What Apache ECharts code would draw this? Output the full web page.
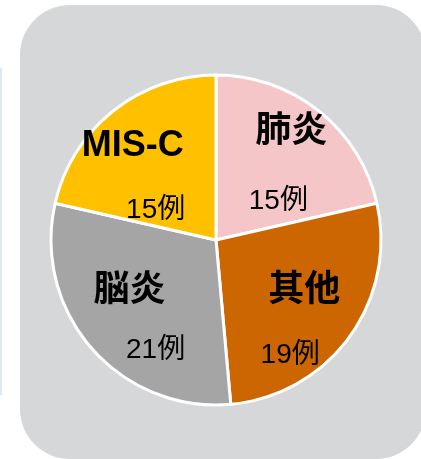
<!DOCTYPE html>
<html>
<head>
<meta charset="utf-8">
<script src="https://cdn.jsdelivr.net/npm/echarts@6/dist/echarts.min.js"></script>
<style>
  html, body { margin: 0; padding: 0; background: #fff; }
  #chart { width: 421px; height: 459px; }
</style>
</head>
<body>
<div id="chart"></div>
<script>
// 疾患別の内訳（例数）
const categories = ['肺炎', '其他', '脳炎', 'MIS-C'];
const counts = [15, 19, 21, 15];
const unit = '例';

// styles
const sliceColors = ['#F4C6C8', '#CC6600', '#A5A5A5', '#FFC000'];
const nameOffsets = [[22, -41], [19, 1], [-22, -5], [-30, -27]];
const valueOffsets = [[9, 28], [5, 65], [4, 54], [-7, 37]];

const FONT = '"Liberation Sans", "Noto Sans CJK JP", sans-serif';
const CENTER = [216, 240];
const RADIUS = 165;

const chart = echarts.init(document.getElementById('chart'));

chart.setOption({
  backgroundColor: '#fff',
  animation: false,
  graphic: [
    {
      type: 'rect', z: -10,
      shape: { x: 0, y: 68, width: 2, height: 327 },
      style: { fill: '#DCE8F4' }
    },
    {
      type: 'rect', z: -10,
      shape: { x: 20, y: 5, width: 406, height: 454, r: 50 },
      style: { fill: '#D6D7D9' }
    }
  ],
  series: [
    {
      type: 'pie',
      center: CENTER,
      radius: RADIUS,
      startAngle: 90,
      clockwise: true,
      silent: true,
      data: categories.map((name, i) => ({
        name,
        value: counts[i],
        itemStyle: { color: sliceColors[i] },
        label: { offset: nameOffsets[i] }
      })),
      itemStyle: { borderColor: '#fff', borderWidth: 3 },
      label: {
        show: true,
        position: 'inside',
        formatter: '{b}',
        color: '#000',
        fontFamily: FONT,
        fontSize: 36,
        fontWeight: 'bold'
      },
      labelLine: { show: false }
    },
    {
      type: 'pie',
      center: CENTER,
      radius: RADIUS,
      startAngle: 90,
      clockwise: true,
      silent: true,
      data: categories.map((name, i) => ({
        name,
        value: counts[i],
        label: { offset: valueOffsets[i] }
      })),
      itemStyle: { color: 'rgba(0,0,0,0)', borderWidth: 0 },
      label: {
        show: true,
        position: 'inside',
        formatter: p => p.value + unit,
        color: '#000',
        fontFamily: FONT,
        fontSize: 28,
        fontWeight: 'normal'
      },
      labelLine: { show: false }
    }
  ]
});
</script>
</body>
</html>
